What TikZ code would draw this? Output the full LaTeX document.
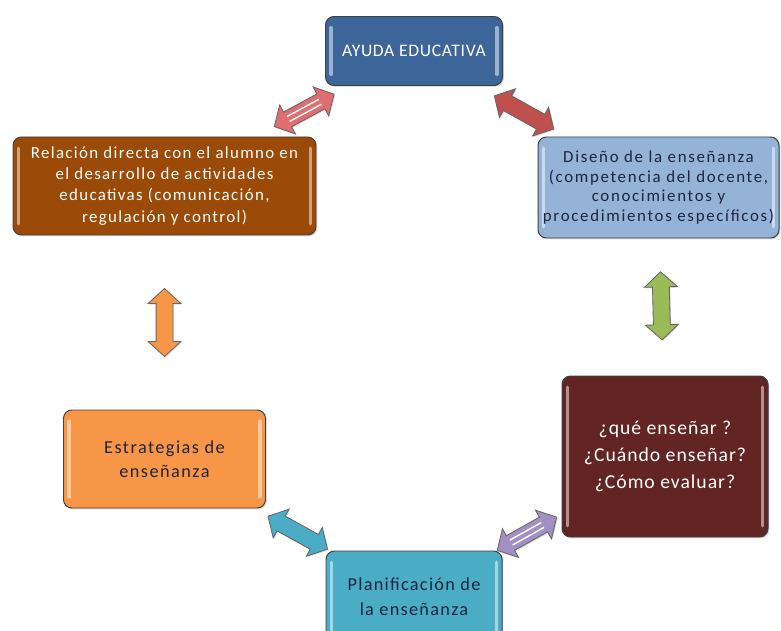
\documentclass[tikz,border=0pt]{standalone}
\usepackage{fontspec}
\setmainfont{Carlito}
\usetikzlibrary{positioning,shapes.arrows,shadows}

\definecolor{ayudablue}{HTML}{3C659A}
\definecolor{relbrown}{HTML}{9C4A08}
\definecolor{disblue}{HTML}{95B3D7}
\definecolor{estorange}{HTML}{F79646}
\definecolor{quered}{HTML}{632523}
\definecolor{planteal}{HTML}{4BACC6}
\definecolor{arrpink}{HTML}{DE6E70}
\definecolor{arrred}{HTML}{C0504D}
\definecolor{arrgreen}{HTML}{9BBB59}
\definecolor{arrpurple}{HTML}{A48FC4}
\definecolor{darktext}{HTML}{1F2540}

% font size with extra letter spacing
\newcommand{\boxfont}[3]{\fontsize{#1}{#2}\selectfont\addfontfeatures{LetterSpace=#3}}

\begin{document}
\begin{tikzpicture}[on grid,
	box/.style={draw=black!75, line width=0.7pt, rounded corners=6pt, align=center, inner sep=2pt,
		drop shadow={opacity=0.3, shadow xshift=1pt, shadow yshift=-1pt},
		path picture={\draw[white, opacity=0.5, line width=2.5pt, line cap=round]
			([shift={(4pt,8pt)}]path picture bounding box.south west) -- ([shift={(4pt,-8pt)}]path picture bounding box.north west)
			([shift={(-4pt,8pt)}]path picture bounding box.south east) -- ([shift={(-4pt,-8pt)}]path picture bounding box.north east);}},
	dblarrow/.style={double arrow, draw=black!60, line width=0.6pt, inner xsep=0pt, inner ysep=0.2cm,
		double arrow head extend=0.2cm, minimum height=1.7cm, double arrow tip angle=95, sloped, anchor=center,
		drop shadow={opacity=0.25, shadow xshift=0.8pt, shadow yshift=-0.8pt}},
	stripes/.style={path picture={\draw[white, line width=1pt]
			([shift={(-0.45cm,0.07cm)}]path picture bounding box.center) -- ([shift={(0.45cm,0.07cm)}]path picture bounding box.center)
			([shift={(-0.45cm,-0.07cm)}]path picture bounding box.center) -- ([shift={(0.45cm,-0.07cm)}]path picture bounding box.center);}}]
	\useasboundingbox (0,0) rectangle (19.525,-15.775);
	\clip (0,0) rectangle (19.525,-15.775);
	\node[box, fill=ayudablue, text=white, minimum width=4.425cm, minimum height=1.725cm, font=\boxfont{12.5}{15}{4}] (ayuda) at (10.35,-1.275) {AYUDA EDUCATIVA};
	\node[box, fill=relbrown, text=white, minimum width=7.575cm, minimum height=2.45cm, font=\boxfont{12}{15}{8}] (rel) [below left=3.375cm and 6.2375cm of ayuda]
		{Relación directa con el alumno en\\el desarrollo de actividades\\educativas (comunicación,\\regulación y control)};
	\node[box, fill=disblue, text=darktext, minimum width=6.025cm, minimum height=2.525cm, font=\boxfont{12}{14.2}{10}] (dis) [below right=3.4125cm and 6.1125cm of ayuda]
		{Diseño de la enseñanza\\(competencia del docente,\\conocimientos y\\procedimientos específicos)};
	\node[box, fill=estorange, text=darktext, minimum width=5.05cm, minimum height=2.45cm, font=\boxfont{13}{17}{8}] (estr) [below=6.825cm of rel]
		{Estrategias de\\enseñanza};
	\node[box, fill=quered, text=white, minimum width=5.15cm, minimum height=4.025cm, font=\boxfont{14}{19}{5}] (que) [below=6.725cm of dis, xshift=0.1625cm]
		{¿qué enseñar ?\\¿Cuándo enseñar?\\¿Cómo evaluar?};
	\node[box, fill=planteal, text=darktext, minimum width=4.4cm, minimum height=2.3cm, font=\boxfont{13}{17.5}{7}] (plan) [below=13.65cm of ayuda]
		{Planificación de\\la enseñanza};
	\path
	(rel.center) edge[draw=none] node[dblarrow, stripes, fill=arrpink, pos=0.56] {} (ayuda.center)
	(ayuda.center) edge[draw=none] node[dblarrow, fill=arrred, pos=0.45] {} (dis.center)
	(rel.center) edge[draw=none] node[dblarrow, fill=estorange, pos=0.5] {} (estr.center)
	(dis.center) edge[draw=none] node[dblarrow, fill=arrgreen, pos=0.44] {} (que.center)
	(estr.center) edge[draw=none] node[dblarrow, fill=planteal, pos=0.534] {} (plan.center)
	(plan.center) edge[draw=none] node[dblarrow, stripes, fill=arrpurple, pos=0.45] {} (que.center);
\end{tikzpicture}
\end{document}
